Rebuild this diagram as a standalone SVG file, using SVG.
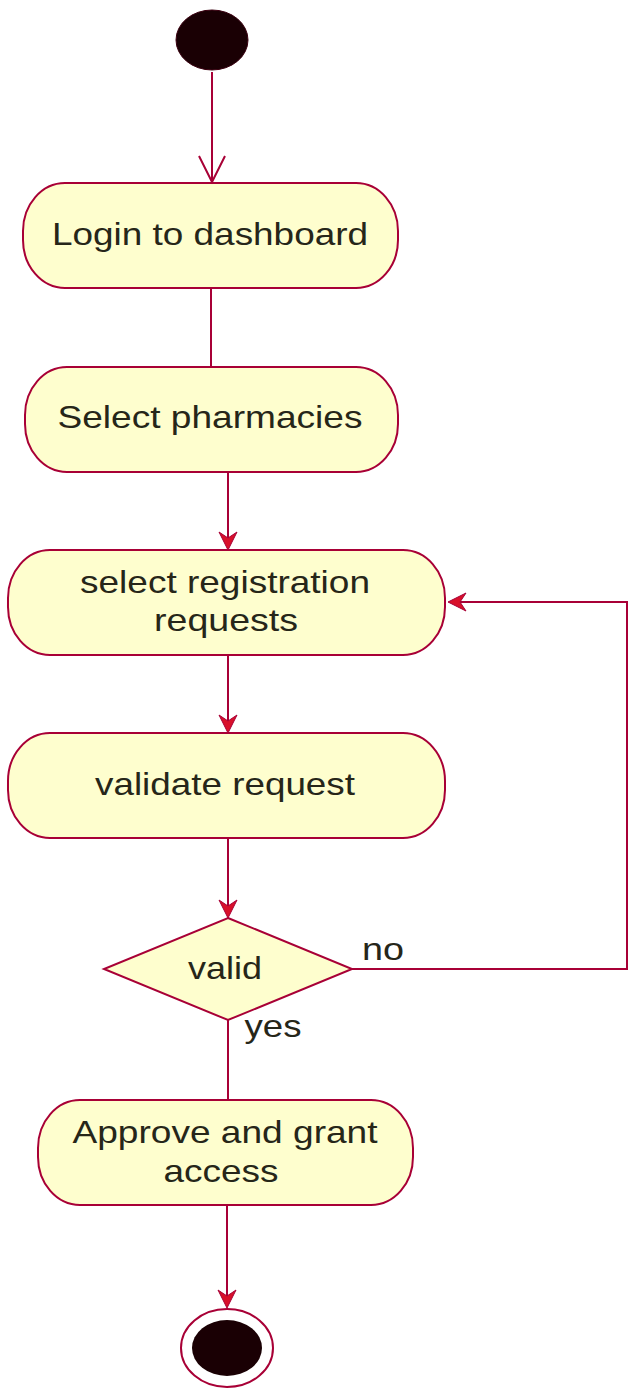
<svg xmlns="http://www.w3.org/2000/svg" width="628" height="1389" viewBox="0 0 628 1389">
  <style>
    .act { fill: #fefece; stroke: #a80036; stroke-width: 2; }
    .lbl { font-family: "Liberation Sans", Arial, sans-serif; font-size: 32px; fill: #262619; text-anchor: middle; }
    .edge { fill: none; stroke: #a80036; stroke-width: 2; }
    .head { fill: #d8102a; stroke: #a80036; stroke-width: 1; }
  </style>
  <defs>
    <polygon id="arrowDown" points="0,0 -9,-18 0,-12 9,-18"/>
  </defs>

  <!-- initial state -->
  <g id="start">
    <ellipse cx="212" cy="40" rx="36" ry="30" fill="#1a0004" stroke="#3a0010" stroke-width="1"/>
  </g>

  <!-- actions -->
  <g id="login">
    <rect class="act" x="23" y="183" width="375" height="105" rx="42" ry="48"/>
    <text class="lbl" x="210" y="245" textLength="316" lengthAdjust="spacingAndGlyphs">Login to dashboard</text>
  </g>
  <g id="select-pharmacies">
    <rect class="act" x="25" y="367" width="373" height="105" rx="42" ry="48"/>
    <text class="lbl" x="210" y="428" textLength="305" lengthAdjust="spacingAndGlyphs">Select pharmacies</text>
  </g>
  <g id="select-requests">
    <rect class="act" x="8" y="550" width="437" height="105" rx="42" ry="48"/>
    <text class="lbl" x="225" y="593" textLength="290" lengthAdjust="spacingAndGlyphs">select registration</text>
    <text class="lbl" x="226" y="631" textLength="144" lengthAdjust="spacingAndGlyphs">requests</text>
  </g>
  <g id="validate">
    <rect class="act" x="8" y="733" width="437" height="105" rx="42" ry="48"/>
    <text class="lbl" x="225" y="795" textLength="260" lengthAdjust="spacingAndGlyphs">validate request</text>
  </g>
  <g id="decision">
    <polygon class="act" points="228,918 352,969 228,1020 104,969"/>
    <text class="lbl" x="225" y="979" textLength="74" lengthAdjust="spacingAndGlyphs">valid</text>
  </g>
  <g id="approve">
    <rect class="act" x="38" y="1100" width="375" height="105" rx="42" ry="48"/>
    <text class="lbl" x="225" y="1143" textLength="305" lengthAdjust="spacingAndGlyphs">Approve and grant</text>
    <text class="lbl" x="221" y="1182" textLength="115" lengthAdjust="spacingAndGlyphs">access</text>
  </g>

  <!-- final state -->
  <g id="end">
    <ellipse cx="227" cy="1348" rx="46" ry="39" fill="#ffffff" stroke="#a80036" stroke-width="2"/>
    <ellipse cx="227" cy="1348" rx="35" ry="28" fill="#1a0004"/>
  </g>

  <!-- connectors -->
  <g id="connectors">
    <line class="edge" x1="212" y1="72" x2="212" y2="182"/>
    <polyline class="edge" points="199,156 212,182 225,156"/>

    <line class="edge" x1="211" y1="288" x2="211" y2="367"/>

    <line class="edge" x1="228" y1="472" x2="228" y2="540"/>
    <use href="#arrowDown" class="head" x="228" y="550"/>

    <line class="edge" x1="228" y1="655" x2="228" y2="723"/>
    <use href="#arrowDown" class="head" x="228" y="733"/>

    <line class="edge" x1="228" y1="838" x2="228" y2="908"/>
    <use href="#arrowDown" class="head" x="228" y="918"/>

    <polyline class="edge" points="352,969 627,969 627,602 458,602"/>
    <polygon class="head" points="448,602 466,593 460,602 466,611"/>
    <text class="lbl" x="383" y="960" textLength="42" lengthAdjust="spacingAndGlyphs">no</text>

    <line class="edge" x1="228" y1="1020" x2="228" y2="1100"/>
    <text class="lbl" x="273" y="1037" textLength="57" lengthAdjust="spacingAndGlyphs">yes</text>

    <line class="edge" x1="227" y1="1205" x2="227" y2="1298"/>
    <use href="#arrowDown" class="head" x="227" y="1308"/>
  </g>
</svg>
